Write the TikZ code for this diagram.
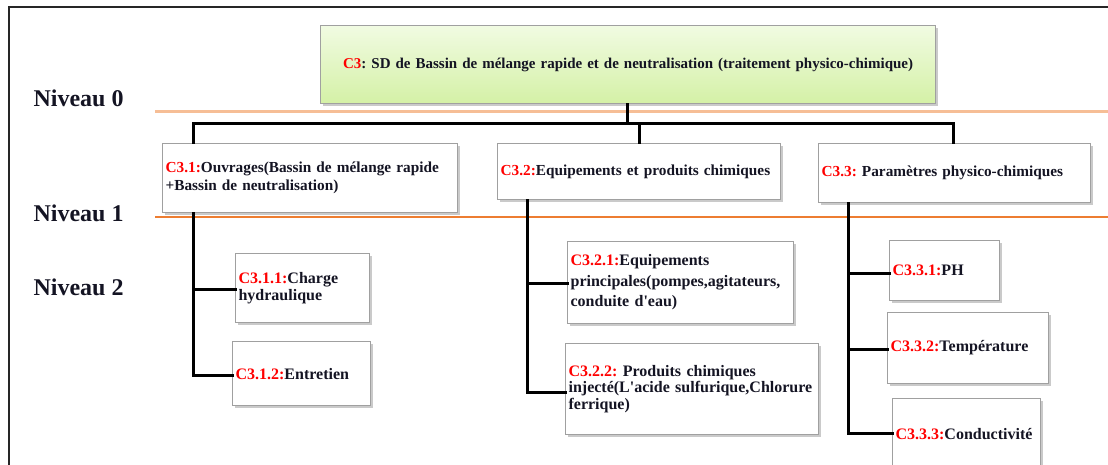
\documentclass[tikz,border=0pt]{standalone}
\usepackage{fontspec}
\setmainfont{Liberation Serif}
\usetikzlibrary{shadows}
\frenchspacing
\definecolor{boxline}{RGB}{160,160,160}
\definecolor{lvlA}{RGB}{246,190,150}
\definecolor{lvlB}{RGB}{237,125,49}
\definecolor{topA}{RGB}{241,251,226}
\definecolor{topB}{RGB}{212,241,166}
\definecolor{ink}{RGB}{20,20,35}
\newcommand{\lab}[1]{\textcolor{red}{#1}}
\tikzset{
  x=1pt, y=-1pt,
  card/.style args={#1x#2}{draw=boxline, line width=1.2pt, fill=white, text=ink,
    minimum width=#1pt, minimum height=#2pt, text width=#1pt-6pt,
    inner sep=3pt, align=left, anchor=north west,
    font=\fontsize{15.3}{18}\selectfont\bfseries,
    drop shadow={shadow xshift=2pt, shadow yshift=-2pt, opacity=0.35, fill=black!60}},
  small/.style={font=\fontsize{16}{16.5}\selectfont\bfseries},
  link/.style={line width=3pt, line cap=rect},
  level/.style={font=\fontsize{24}{26}\selectfont\bfseries, anchor=base west, text=ink},
}
\begin{document}
\begin{tikzpicture}
\useasboundingbox (0,0) rectangle (1108,465);
% outer frame (top and left edges)
\draw[line width=2.5pt, black!85] (9,465) -- (9,7) -- (1108,7);

% level separators
\draw[lvlA, line width=3pt] (155,112) -- (1108,112);
\draw[lvlB, line width=1.3pt] (155,217) -- (1108,217);
\node[level] (n0) at (30,107) {Niveau 0};
\node[level] (n1) at (30,222) {Niveau 1};
\node[level] (n2) at (30,295) {Niveau 2};

% level 0
\node[card=615x78, top color=topA, bottom color=topB, align=center,
      font=\fontsize{15}{18}\selectfont\bfseries] (c3) at (320,25)
  {\lab{C3}: SD de Bassin de mélange rapide et de neutralisation (traitement physico-chimique)};

% level 1
\node[card=295x69] (c31) at (162,143) {\lab{C3.1:}Ouvrages(Bassin de mélange rapide\\+Bassin de neutralisation)};
\node[card=283x56] (c32) at (497,143) {\lab{C3.2:}Equipements et produits chimiques};
\node[card=272x59] (c33) at (818,143) {\lab{C3.3:} Paramètres physico-chimiques};

% level 2
\node[card=134x69, small] (c311) at (235,253) {\lab{C3.1.1:}Charge\\hydraulique};
\node[card=138x64, small] (c312) at (232,341) {\lab{C3.1.2:}Entretien};
\node[card=226x82, small, font=\fontsize{16}{20.5}\selectfont\bfseries] (c321) at (567,241)
  {\lab{C3.2.1:}Equipements\\principales(pompes,agitateurs,\\conduite d\textquotesingle eau)};
\node[card=253x91, small] (c322) at (565,343)
  {\lab{C3.2.2:} Produits chimiques\\injecté(L\textquotesingle acide sulfurique,Chlorure\\ferrique)};
\node[card=110x60, small] (c331) at (889,240) {\lab{C3.3.1:}PH};
\node[card=161x71, small] (c332) at (887,312) {\lab{C3.3.2:}Température};
\node[card=148x70, small] (c333) at (892,398) {\lab{C3.3.3:}Conductivité};

% connector anchors
\coordinate (top) at (627,124);
\coordinate (t31) at (193,124);
\coordinate (t32) at (639,124);
\coordinate (t33) at (953,124);
\coordinate (s31) at (193,0);
\coordinate (s32) at (527,0);
\coordinate (s33) at (848,0);

% level 0 -> level 1
\draw[link] (c3.south -| top) -- (top);
\draw[link] (c31.north -| t31) |- (t33) -- (c33.north -| t33);
\draw[link] (t32) -- (c32.north -| t32);

% level 1 -> level 2
\draw[link] (c31.south -| s31) |- ([yshift=-2pt]c312.west);
\draw[link] ([yshift=-1.5pt]c311.west -| s31) -- ([yshift=-1.5pt]c311.west);
\draw[link] (c32.south -| s32) |- ([yshift=-3.5pt]c322.west);
\draw[link] ([yshift=-1pt]c321.west -| s32) -- ([yshift=-1pt]c321.west);
\draw[link] (c33.south -| s33) |- (c333.west);
\draw[link] ([yshift=-3pt]c331.west -| s33) -- ([yshift=-3pt]c331.west);
\draw[link] ([yshift=-1.5pt]c332.west -| s33) -- ([yshift=-1.5pt]c332.west);
\end{tikzpicture}
\end{document}
